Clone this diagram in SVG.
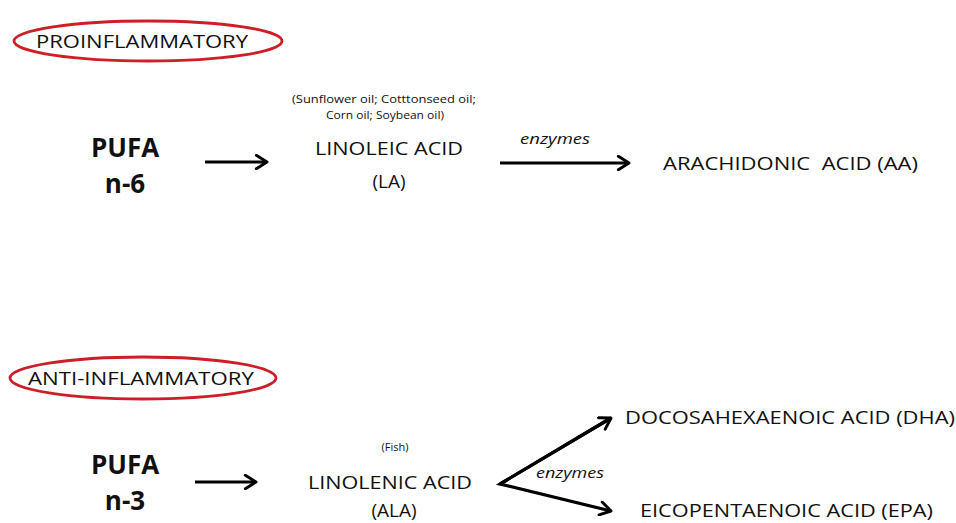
<svg xmlns="http://www.w3.org/2000/svg" width="956" height="523" viewBox="0 0 956 523">
<style>
text{font-family:"Open Sans","Noto Sans","Liberation Sans",sans-serif;fill:#111}
.lbl{font-size:19px}
.small{font-size:11px}
.big{font-size:26px;font-weight:bold;text-anchor:middle}
.it{font-size:14px;font-style:italic}
.oval{fill:none;stroke:#cc1f27;stroke-width:2.8}
.conn{fill:none;stroke:#000;stroke-width:3.2}
</style>
<defs>
<marker id="ah" viewBox="0 0 12 12" refX="10" refY="6" markerWidth="5" markerHeight="5" orient="auto" markerUnits="strokeWidth">
<path d="M2,1 L10,6 L2,11" fill="none" stroke="#000" stroke-width="2.2" stroke-linecap="round" stroke-linejoin="round"/>
</marker>
</defs>
<rect width="956" height="523" fill="#fff"/>
<g id="proinflammatory">
<ellipse class="oval" cx="148" cy="41" rx="134" ry="20"/>
<text class="lbl" x="36" y="48" textLength="212" lengthAdjust="spacingAndGlyphs" style="font-size:18px">PROINFLAMMATORY</text>
</g>
<g id="pufa-n6">
<text class="big" x="125" y="157">PUFA</text>
<text class="big" x="125" y="193">n-6</text>
</g>
<g id="linoleic">
<text class="small" x="384" y="103" text-anchor="middle" textLength="184" lengthAdjust="spacingAndGlyphs">(Sunflower oil; Cotttonseed oil;</text>
<text class="small" x="385" y="119" text-anchor="middle" textLength="118" lengthAdjust="spacingAndGlyphs">Corn oil; Soybean oil)</text>
<text class="lbl" x="389" y="155" text-anchor="middle" textLength="148" lengthAdjust="spacingAndGlyphs">LINOLEIC ACID</text>
<text class="lbl" x="389" y="188" text-anchor="middle">(LA)</text>
</g>
<g id="arachidonic">
<text class="lbl" x="663" y="170" textLength="255" lengthAdjust="spacingAndGlyphs" xml:space="preserve">ARACHIDONIC  ACID (AA)</text>
</g>
<g id="antiinflammatory">
<ellipse class="oval" cx="143" cy="378" rx="133" ry="21"/>
<text class="lbl" x="28" y="385" textLength="226" lengthAdjust="spacingAndGlyphs" style="font-size:18px">ANTI-INFLAMMATORY</text>
</g>
<g id="pufa-n3">
<text class="big" x="125" y="474">PUFA</text>
<text class="big" x="125" y="510">n-3</text>
</g>
<g id="linolenic">
<text class="small" x="395" y="451" text-anchor="middle">(Fish)</text>
<text class="lbl" x="390" y="489" text-anchor="middle" textLength="164" lengthAdjust="spacingAndGlyphs">LINOLENIC ACID</text>
<text class="lbl" x="394" y="517" text-anchor="middle">(ALA)</text>
</g>
<g id="dha">
<text class="lbl" x="625" y="424" textLength="330" lengthAdjust="spacingAndGlyphs">DOCOSAHEXAENOIC ACID (DHA)</text>
</g>
<g id="epa">
<text class="lbl" x="640" y="517" textLength="293" lengthAdjust="spacingAndGlyphs">EICOPENTAENOIC ACID (EPA)</text>
</g>
<g id="connectors">
<line class="conn" x1="205" y1="162" x2="267" y2="162" marker-end="url(#ah)"/>
<line class="conn" x1="500" y1="163" x2="629" y2="163" marker-end="url(#ah)"/>
<text class="it" x="520" y="144" textLength="70" lengthAdjust="spacingAndGlyphs">enzymes</text>
<line class="conn" x1="195" y1="482" x2="256" y2="482" marker-end="url(#ah)"/>
<polyline class="conn" points="611,418 500,484 611,511" marker-end="url(#ah)" stroke-linejoin="miter"/>
<line class="conn" x1="500" y1="484" x2="611" y2="418" marker-end="url(#ah)"/>
<text class="it" x="536" y="478" textLength="68" lengthAdjust="spacingAndGlyphs">enzymes</text>
</g>
</svg>
